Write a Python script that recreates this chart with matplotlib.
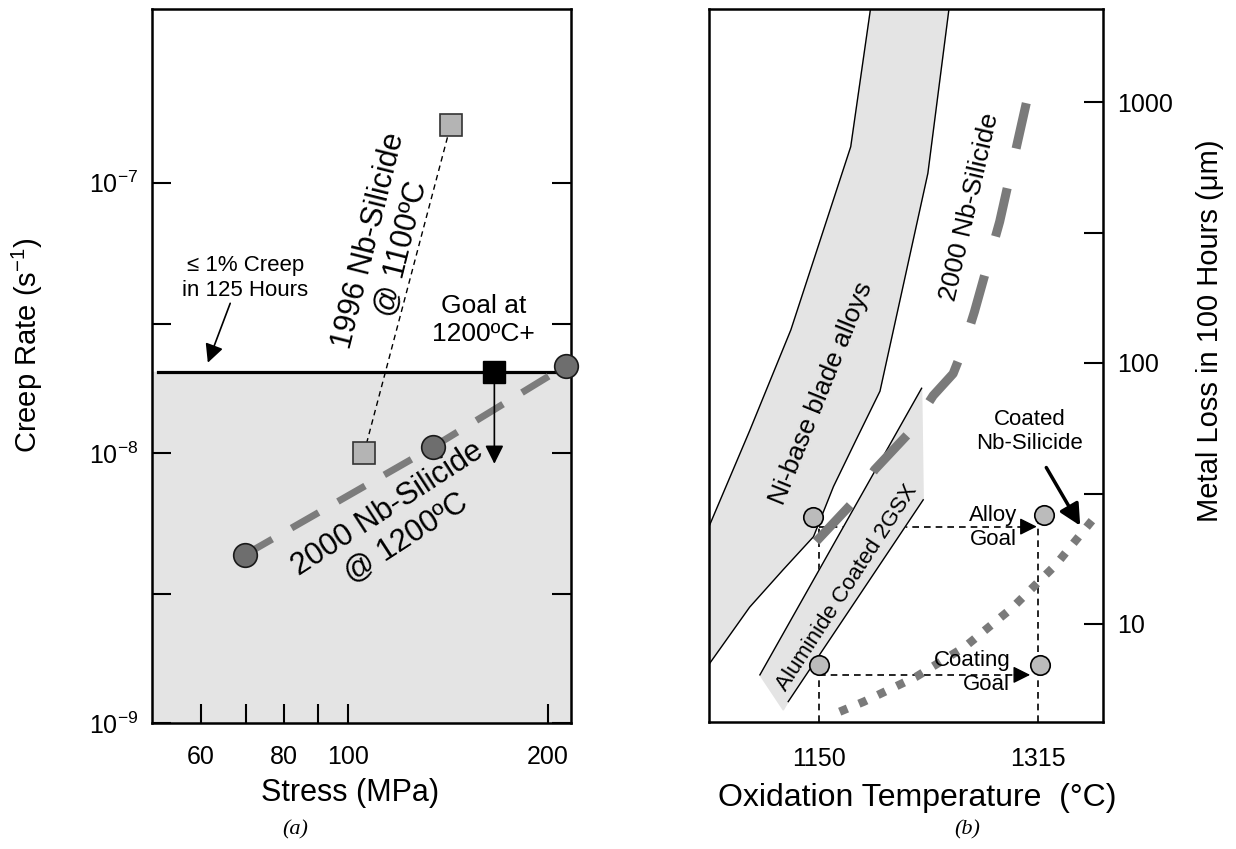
import matplotlib
matplotlib.use('Agg')
import matplotlib.pyplot as plt
from matplotlib.ticker import FixedLocator, FixedFormatter, NullLocator

plt.rcParams['font.family'] = ['Liberation Sans', 'DejaVu Sans']
plt.rcParams['mathtext.fontset'] = 'custom'
plt.rcParams['mathtext.rm'] = 'Liberation Sans'
plt.rcParams['mathtext.it'] = 'Liberation Sans:italic'

# (a) creep data
stress_1996 = [105.6, 142.7]
rate_1996 = [1.0e-8, 1.64e-7]
stress_2000 = [69.9, 134.0, 212.6]
rate_2000 = [4.2e-9, 1.05e-8, 2.1e-8]
goal_stress = [166.0]
goal_rate = [2.0e-8]
goal_rate_arrow = 8.9e-9
creep_limit = 2.0e-8
stress_ticks = [60, 70, 80, 90, 100, 200]
stress_ticklabels = ['60', '', '80', '', '100', '200']
rate_ticks = [1e-9, 3e-9, 1e-8, 3e-8, 1e-7]
rate_ticklabels = ['$10^{-9}$', '', '$10^{-8}$', '', '$10^{-7}$']

# (b) oxidation data
ni_left_T = [1067.4, 1098, 1129, 1174, 1189]
ni_left_loss = [23.6, 55, 134, 674, 2300]
ni_right_T = [1248, 1232, 1196, 1178, 1161, 1146, 1123, 1098, 1067.4]
ni_right_loss = [2300, 533, 78, 50.7, 33.6, 21.6, 16.1, 11.6, 7.0]
al_left_T = [1105.7, 1227.3]
al_left_loss = [6.38, 80]
al_right_T = [1228.5, 1127.0]
al_right_loss = [29.9, 5.04]
al_tip_T = [1123.3]
al_tip_loss = [4.68]
nb_T = [1148, 1175, 1192, 1218, 1236, 1251, 1258, 1267, 1286, 1306]
nb_loss = [20.7, 29, 39, 54, 75, 91, 112, 157, 348, 990]
coated_T = [1165.7, 1184, 1223.3, 1259.9, 1295.2, 1328, 1356.8]
coated_loss = [4.61, 5.04, 6.28, 8.18, 11.5, 16.8, 25.4]
alloy_goal_T = [1146, 1319]
alloy_goal_loss = [25.8, 26.2]
coating_goal_T = [1150, 1316]
coating_goal_loss = [6.97, 6.97]
alloy_line_loss = 23.6
coating_line_loss = 6.38
temp_ticks = [1150, 1315]
temp_ticklabels = ['1150', '1315']
loss_ticks = [10, 31.6, 100, 316, 1000]
loss_ticklabels = ['10', '', '100', '', '1000']

fig = plt.figure(figsize=(12.36, 8.49), dpi=100)

# ---------------- panel (a) ----------------
ax = fig.add_axes([0.1230, 0.1484, 0.3390, 0.8410])
ax.set_xscale('log')
ax.set_yscale('log')
ax.set_xlim(50.6, 216.6)
ax.set_ylim(1e-9, 4.4e-7)

ax.axhspan(1e-9, creep_limit, color='#e4e4e4', zorder=0)
ax.plot([51.6, 216.6], [creep_limit, creep_limit], color='black', lw=2.3, zorder=2)

ax.plot(stress_1996, rate_1996, color='black', lw=1, ls=(0, (4, 3)), zorder=2)
ax.plot(stress_1996, rate_1996, ls='none', marker='s', ms=16, mfc='#b4b4b4',
        mec='#333333', mew=1.2, zorder=3)

ax.plot(stress_2000, rate_2000, color='#7c7c7c', lw=5, ls=(0, (4.5, 3.2)), zorder=2)
ax.plot(stress_2000, rate_2000, ls='none', marker='o', ms=17, mfc='#6e6e6e',
        mec='#1a1a1a', mew=1.2, zorder=4, clip_on=False)

ax.annotate('', xy=(goal_stress[0], goal_rate_arrow), xytext=(goal_stress[0], goal_rate[0]),
            arrowprops=dict(arrowstyle='-|>', color='black', lw=1.2, mutation_scale=28), zorder=3)
ax.plot(goal_stress, goal_rate, ls='none', marker='s', ms=16, mfc='black', mec='black', zorder=4)

ax.text(69.9, 4.44e-8, '\u2264 1% Creep\nin 125 Hours', fontsize=16, ha='center', va='center')
ax.annotate('', xy=(61.2, 2.11e-8), xytext=(66.6, 3.66e-8),
            arrowprops=dict(arrowstyle='-|>', color='black', lw=1.2, mutation_scale=28))
ax.text(160, 3.1e-8, 'Goal at\n1200\u00baC+', fontsize=19, ha='center', va='center')
ax.text(113.8, 5.9e-8, '1996 Nb-Silicide\n@ 1100\u00baC', fontsize=22, ha='center', va='center',
        rotation=76, rotation_mode='anchor')
ax.text(118.3, 5.46e-9, '2000 Nb-Silicide\n@ 1200\u00baC', fontsize=22, ha='center', va='center',
        rotation=33, rotation_mode='anchor')

ax.xaxis.set_major_locator(FixedLocator(stress_ticks))
ax.xaxis.set_major_formatter(FixedFormatter(stress_ticklabels))
ax.xaxis.set_minor_locator(NullLocator())
ax.yaxis.set_major_locator(FixedLocator(rate_ticks))
ax.yaxis.set_major_formatter(FixedFormatter(rate_ticklabels))
ax.yaxis.set_minor_locator(NullLocator())
ax.tick_params(axis='x', direction='in', length=14, width=1.5, labelsize=18, pad=16)
ax.tick_params(axis='y', direction='in', length=14, width=1.5, labelsize=18, pad=10,
               left=True, right=True)
for s in ax.spines.values():
    s.set_linewidth(1.8)

fig.text(0.0218, 0.5936, 'Creep Rate (s$^{-1}$)', fontsize=21, rotation=90, ha='center', va='center')
fig.text(0.2832, 0.0660, 'Stress (MPa)', fontsize=22, ha='center', va='center')
fig.text(0.2387, 0.0224, '(a)', fontsize=16, family='Liberation Serif', style='italic',
         ha='center', va='center')

# ---------------- panel (b) ----------------
bx = fig.add_axes([0.5736, 0.1496, 0.3188, 0.8398])
bx.set_yscale('log')
bx.set_xlim(1067.4, 1363.7)
bx.set_ylim(4.21, 2272)

# goal guide lines (drawn below the bands)
dash = (0, (4, 3))
bx.plot([temp_ticks[0], temp_ticks[0]], [4.21, alloy_goal_loss[0]], color='black', lw=1.2, ls=dash, zorder=1)
bx.plot([temp_ticks[1], temp_ticks[1]], [4.21, alloy_goal_loss[1]], color='black', lw=1.2, ls=dash, zorder=1)
bx.plot([temp_ticks[0], 1305], [alloy_line_loss, alloy_line_loss], color='black', lw=1.2, ls=dash, zorder=1)
bx.plot([temp_ticks[0], 1298], [coating_line_loss, coating_line_loss], color='black', lw=1.2, ls=dash, zorder=1)
bx.annotate('', xy=(1316, alloy_line_loss), xytext=(1300, alloy_line_loss),
            arrowprops=dict(arrowstyle='-|>', color='black', lw=1, mutation_scale=26), zorder=5)
bx.annotate('', xy=(1311, coating_line_loss), xytext=(1295, coating_line_loss),
            arrowprops=dict(arrowstyle='-|>', color='black', lw=1, mutation_scale=26), zorder=5)

# Ni-base band
band_T = ni_left_T + ni_right_T
band_loss = ni_left_loss + ni_right_loss
bx.fill(band_T, band_loss, color='#e4e4e4', zorder=2)
bx.plot(ni_left_T, ni_left_loss, color='black', lw=1, zorder=3)
bx.plot(ni_right_T, ni_right_loss, color='black', lw=1, zorder=3)

# Aluminide coated band
al_T = al_left_T + al_right_T + al_tip_T
al_loss = al_left_loss + al_right_loss + al_tip_loss
bx.fill(al_T, al_loss, color='#e4e4e4', zorder=2)
bx.plot(al_left_T, al_left_loss, color='black', lw=1, zorder=3)
bx.plot(al_right_T, al_right_loss, color='black', lw=1, zorder=3)

# Nb-silicide curves
bx.plot(nb_T, nb_loss, color='#7a7a7a', lw=6.5, ls=(0, (5.5, 4.5)), zorder=4)
bx.plot(coated_T, coated_loss, color='#7a7a7a', lw=6, ls=(0, (1, 1.5)), zorder=4, clip_on=False)

bx.plot(alloy_goal_T, alloy_goal_loss, ls='none', marker='o', ms=14, mfc='#bbbbbb', mec='black',
        mew=1.2, zorder=6)
bx.plot(coating_goal_T, coating_goal_loss, ls='none', marker='o', ms=14, mfc='#bbbbbb', mec='black',
        mew=1.2, zorder=6)

bx.text(1151.8, 76.6, 'Ni-base blade alloys', fontsize=19, rotation=68, rotation_mode='anchor',
        ha='center', va='center', zorder=7)
bx.text(1171.5, 13.8, 'Aluminide Coated 2GSX', fontsize=16, rotation=57, rotation_mode='anchor',
        ha='center', va='center', zorder=7)
bx.text(1263.3, 397, '2000 Nb-Silicide', fontsize=19, rotation=77, rotation_mode='anchor',
        ha='center', va='center', zorder=7)
bx.text(1308.4, 54.5, 'Coated\nNb-Silicide', fontsize=16, ha='center', va='center', zorder=7)
bx.annotate('', xy=(1347.6, 23.3), xytext=(1320, 40.6),
            arrowprops=dict(arrowstyle='-|>', color='black', lw=2.5, mutation_scale=32), zorder=7)
bx.text(1299, 23.5, 'Alloy\nGoal', fontsize=16, ha='right', va='center', multialignment='right', zorder=7)
bx.text(1294, 6.5, 'Coating\nGoal', fontsize=16, ha='right', va='center', multialignment='right', zorder=7)

bx.xaxis.set_major_locator(FixedLocator(temp_ticks))
bx.xaxis.set_major_formatter(FixedFormatter(temp_ticklabels))
bx.yaxis.set_major_locator(FixedLocator(loss_ticks))
bx.yaxis.set_major_formatter(FixedFormatter(loss_ticklabels))
bx.yaxis.set_minor_locator(NullLocator())
bx.tick_params(axis='x', length=0, labelsize=18, pad=18)
bx.yaxis.tick_right()
bx.tick_params(axis='y', direction='in', length=14, width=1.5, labelsize=18, pad=10)
for s in bx.spines.values():
    s.set_linewidth(1.8)

fig.text(0.7419, 0.0601, 'Oxidation Temperature  (\u00b0C)', fontsize=23, ha='center', va='center')
fig.text(0.979, 0.611, 'Metal Loss in 100 Hours (\u03bcm)', fontsize=21, rotation=90,
         ha='center', va='center')
fig.text(0.7824, 0.0224, '(b)', fontsize=16, family='Liberation Serif', style='italic',
         ha='center', va='center')

fig.savefig('out.png', dpi=100)
